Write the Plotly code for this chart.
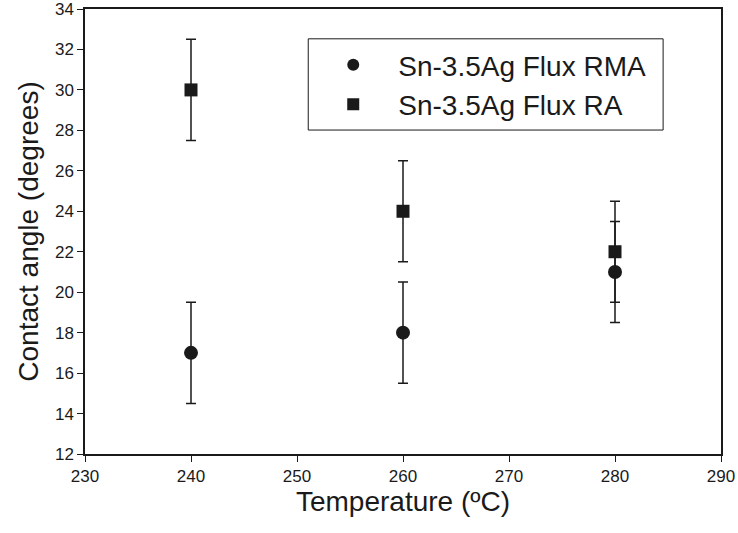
import plotly.graph_objects as go

temps = [240, 260, 280]
rma_angle = [17, 18, 21]
rma_err = [2.5, 2.5, 2.5]
ra_angle = [30, 24, 22]
ra_err = [2.5, 2.5, 2.5]

FONT = "Liberation Sans, Arial, sans-serif"
INK = "#1a1a1a"

fig = go.Figure()
fig.add_trace(go.Scatter(
    x=temps, y=rma_angle, mode="markers", name="Sn-3.5Ag Flux RMA",
    marker=dict(symbol="circle", size=14, color=INK),
    error_y=dict(type="data", array=rma_err, visible=True, color=INK, thickness=1.5, width=5),
))
fig.add_trace(go.Scatter(
    x=temps, y=ra_angle, mode="markers", name="Sn-3.5Ag Flux RA",
    marker=dict(symbol="square", size=13, color=INK),
    error_y=dict(type="data", array=ra_err, visible=True, color=INK, thickness=1.5, width=5),
))

fig.update_layout(
    width=738, height=533,
    margin=dict(l=85, r=17, t=9, b=79, autoexpand=False),
    paper_bgcolor="white", plot_bgcolor="white",
    font=dict(family=FONT, color=INK),
    showlegend=True,
    legend=dict(
        x=0.351, y=0.93, xanchor="left", yanchor="top",
        borderwidth=0, bgcolor="rgba(0,0,0,0)",
        font=dict(size=28, family=FONT, color=INK),
        itemsizing="constant", tracegroupgap=0, itemwidth=80,
    ),
    # frame drawn around the legend (wider than the legend's own box, as in the reference)
    shapes=[dict(
        type="rect", xref="paper", yref="paper",
        x0=0.351, x1=0.909, y0=0.728, y1=0.933,
        line=dict(color=INK, width=1), fillcolor="white", layer="below",
    )],
    xaxis=dict(
        range=[230, 290], dtick=10, tick0=230, automargin=False,
        showline=True, linecolor=INK, linewidth=1.5, mirror=True,
        ticks="outside", ticklen=6, tickcolor=INK, tickwidth=1.2,
        showgrid=False, zeroline=False, ticklabeloverflow="allow",
        tickfont=dict(size=17, family=FONT, color=INK),
        title=dict(text="Temperature (ºC)", font=dict(size=28, family=FONT, color=INK), standoff=4),
    ),
    yaxis=dict(
        range=[12, 34], dtick=2, tick0=12, automargin=False,
        showline=True, linecolor=INK, linewidth=1.5, mirror=True,
        ticks="outside", ticklen=6, tickcolor=INK, tickwidth=1.2,
        showgrid=False, zeroline=False, ticklabeloverflow="allow",
        tickfont=dict(size=17, family=FONT, color=INK),
        title=dict(text="Contact angle (degrees)", font=dict(size=28, family=FONT, color=INK), standoff=8),
    ),
)

# remove the browser's default 8px page margin so the figure fills the window exactly
fig.write_html("out.html", config={"displayModeBar": False},
               post_script="document.body.style.margin='0';")
